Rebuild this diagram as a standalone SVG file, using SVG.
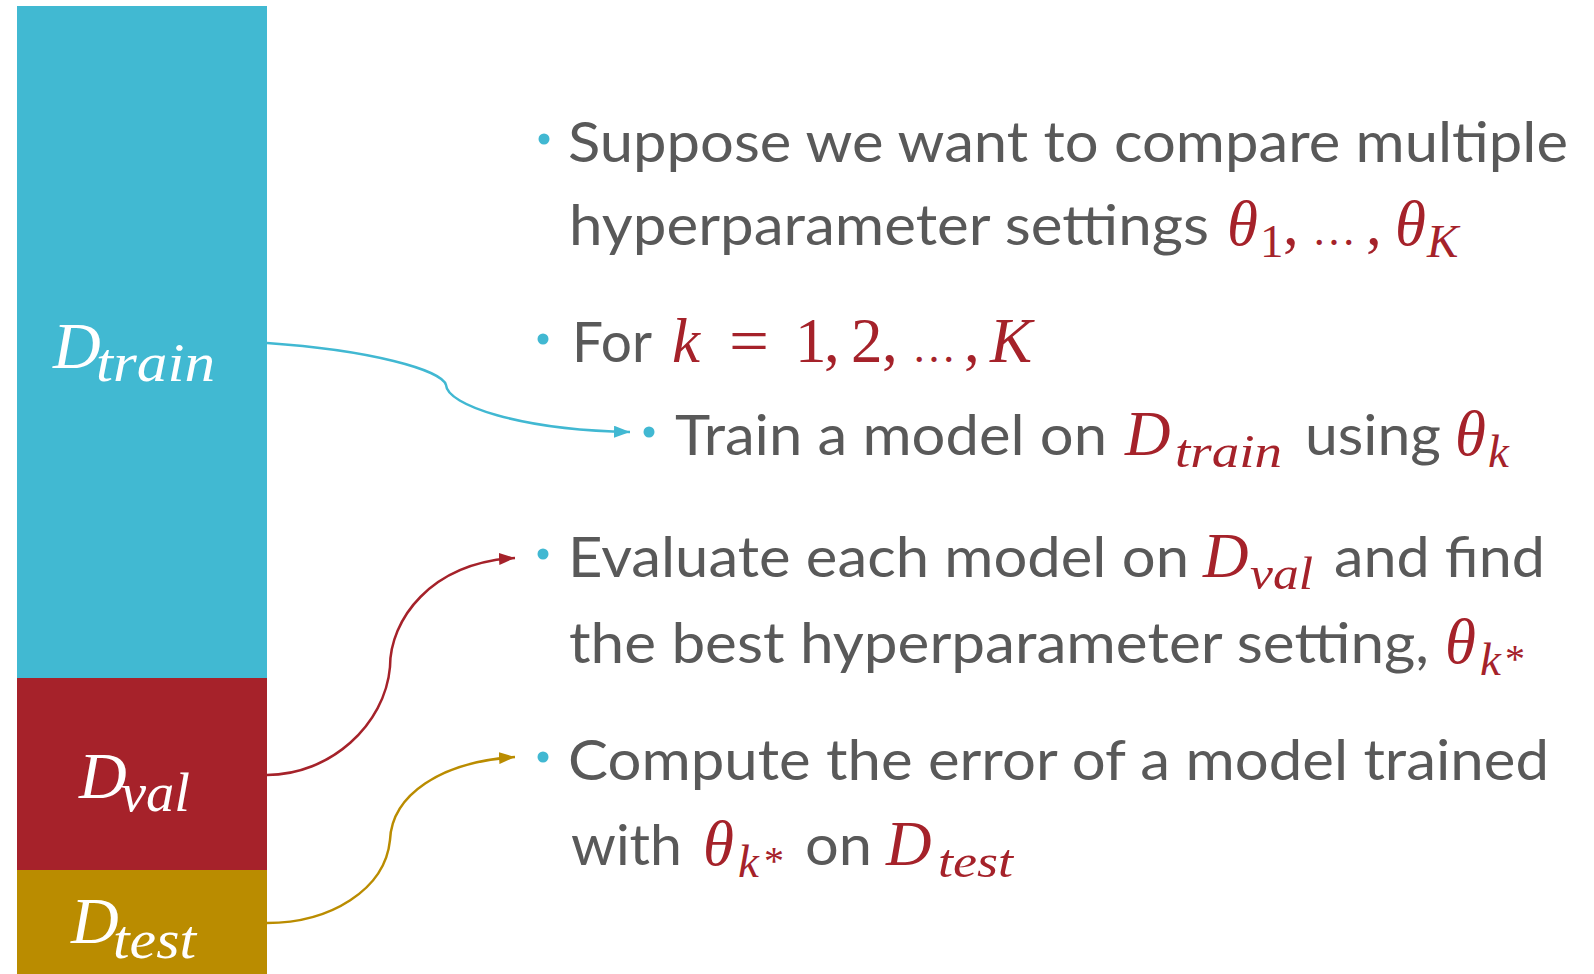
<svg xmlns="http://www.w3.org/2000/svg" width="1594" height="974" viewBox="0 0 1594 974">
<style>
.txt{font-family:Lato,"Open Sans","Liberation Sans",sans-serif;font-size:57px;fill:#595959}
.m{font-family:"Liberation Serif",serif;font-style:italic;font-size:63px;fill:#A5222A}
.mn{font-family:"Liberation Serif",serif;font-style:normal;font-size:63px;fill:#A5222A}
.el{font-family:"Liberation Serif",serif;font-style:normal;font-size:44px;fill:#A5222A}
.ms{font-family:"Liberation Serif",serif;font-style:italic;font-size:47px;fill:#A5222A}
.msn{font-family:"Liberation Serif",serif;font-style:normal;font-size:47px;fill:#A5222A}
.lab{font-family:"Liberation Serif",serif;font-style:italic;font-size:66px;fill:#FFFFFF}
.labs{font-family:"Liberation Serif",serif;font-style:italic;font-size:54px;fill:#FFFFFF}
.bul{fill:#41B8D2}
.conn{fill:none;stroke-width:2.5}
</style>
<defs>
<marker id="ah-cyan" viewBox="0 0 16 12" refX="16" refY="6" markerWidth="16" markerHeight="12" markerUnits="userSpaceOnUse" orient="auto"><path d="M0,0 L16,6 L0,12 z" fill="#41B8D2"/></marker>
<marker id="ah-red" viewBox="0 0 16 12" refX="16" refY="6" markerWidth="16" markerHeight="12" markerUnits="userSpaceOnUse" orient="auto"><path d="M0,0 L16,6 L0,12 z" fill="#A5222A"/></marker>
<marker id="ah-gold" viewBox="0 0 16 12" refX="16" refY="6" markerWidth="16" markerHeight="12" markerUnits="userSpaceOnUse" orient="auto"><path d="M0,0 L16,6 L0,12 z" fill="#BA8C00"/></marker>
</defs>
<rect width="1594" height="974" fill="#FFFFFF"/>

<g id="node-train">
<rect x="17" y="6" width="250" height="672" fill="#41B9D2"/>
<text class="lab" x="53" y="368">D</text>
<text class="labs" x="96" y="381" textLength="119" lengthAdjust="spacingAndGlyphs">train</text>
</g>
<g id="node-val">
<rect x="17" y="678" width="250" height="192" fill="#A6222A"/>
<text class="lab" x="79" y="798">D</text>
<text class="labs" x="121" y="811" textLength="69" lengthAdjust="spacingAndGlyphs">val</text>
</g>
<g id="node-test">
<rect x="17" y="870" width="250" height="104" fill="#BA8C00"/>
<text class="lab" x="71" y="943">D</text>
<text class="labs" x="113" y="958" textLength="83" lengthAdjust="spacingAndGlyphs">test</text>
</g>

<g id="connectors">
<path class="conn" stroke="#41B8D2" d="M267,343 C370,350 442,370 446,385 C447,405 520,430 630,432" marker-end="url(#ah-cyan)"/>
<path class="conn" stroke="#A5222A" d="M267,775 C330,775 385,725 390,667 C390,620 430,563 515,558" marker-end="url(#ah-red)"/>
<path class="conn" stroke="#BA8C00" d="M267,923 C330,923 385,890 390,840 C392,795 440,762 515,757" marker-end="url(#ah-gold)"/>
</g>

<g id="bullet-1">
<circle class="bul" cx="544" cy="139" r="5.5"/>
<text class="txt" x="568" y="162" textLength="1000" lengthAdjust="spacingAndGlyphs">Suppose we want to compare multiple</text>
<text class="txt" x="569" y="245" textLength="640" lengthAdjust="spacingAndGlyphs">hyperparameter settings</text>
<text class="m" x="1227" y="245">θ</text>
<text class="msn" x="1260" y="257">1</text>
<text class="mn" x="1283" y="245">,</text>
<text class="el" x="1312" y="245">…</text>
<text class="mn" x="1366" y="245">,</text>
<text class="m" x="1395" y="245">θ</text>
<text class="ms" x="1427" y="257">K</text>
</g>

<g id="bullet-2">
<circle class="bul" cx="543" cy="339" r="5.5"/>
<text class="txt" x="572" y="362" textLength="80" lengthAdjust="spacingAndGlyphs">For</text>
<text class="m" x="672" y="362">k</text>
<text class="mn" x="729" y="362" textLength="40" lengthAdjust="spacingAndGlyphs">=</text>
<text class="mn" x="795" y="362">1</text>
<text class="mn" x="824" y="362">,</text>
<text class="mn" x="851" y="362">2</text>
<text class="mn" x="882" y="362">,</text>
<text class="el" x="912" y="362">…</text>
<text class="mn" x="964" y="362">,</text>
<text class="m" x="990" y="362">K</text>
</g>

<g id="bullet-2a">
<circle class="bul" cx="649" cy="432" r="5.5"/>
<text class="txt" x="675" y="455" textLength="432" lengthAdjust="spacingAndGlyphs">Train a model on</text>
<text class="m" x="1125" y="455">D</text>
<text class="ms" x="1175" y="467" textLength="107" lengthAdjust="spacingAndGlyphs">train</text>
<text class="txt" x="1305" y="455" textLength="136" lengthAdjust="spacingAndGlyphs">using</text>
<text class="m" x="1455" y="455">θ</text>
<text class="ms" x="1488" y="467">k</text>
</g>

<g id="bullet-3">
<circle class="bul" cx="543" cy="554" r="5.5"/>
<text class="txt" x="568" y="577" textLength="621" lengthAdjust="spacingAndGlyphs">Evaluate each model on</text>
<text class="m" x="1203" y="577">D</text>
<text class="ms" x="1250" y="589" textLength="63" lengthAdjust="spacingAndGlyphs">val</text>
<text class="txt" x="1334" y="577" textLength="211" lengthAdjust="spacingAndGlyphs">and find</text>
<text class="txt" x="569" y="663" textLength="860" lengthAdjust="spacingAndGlyphs">the best hyperparameter setting,</text>
<text class="m" x="1445" y="663">θ</text>
<text class="ms" x="1480" y="675">k</text>
<text class="mn" x="1505" y="672" style="font-size:40px">*</text>
</g>

<g id="bullet-4">
<circle class="bul" cx="543" cy="757" r="5.5"/>
<text class="txt" x="568" y="780" textLength="981" lengthAdjust="spacingAndGlyphs">Compute the error of a model trained</text>
<text class="txt" x="571" y="865" textLength="111" lengthAdjust="spacingAndGlyphs">with</text>
<text class="m" x="703" y="865">θ</text>
<text class="ms" x="738" y="877">k</text>
<text class="mn" x="764" y="874" style="font-size:40px">*</text>
<text class="txt" x="805" y="865" textLength="67" lengthAdjust="spacingAndGlyphs">on</text>
<text class="m" x="886" y="865">D</text>
<text class="ms" x="938" y="877" textLength="75" lengthAdjust="spacingAndGlyphs">test</text>
</g>
</svg>
